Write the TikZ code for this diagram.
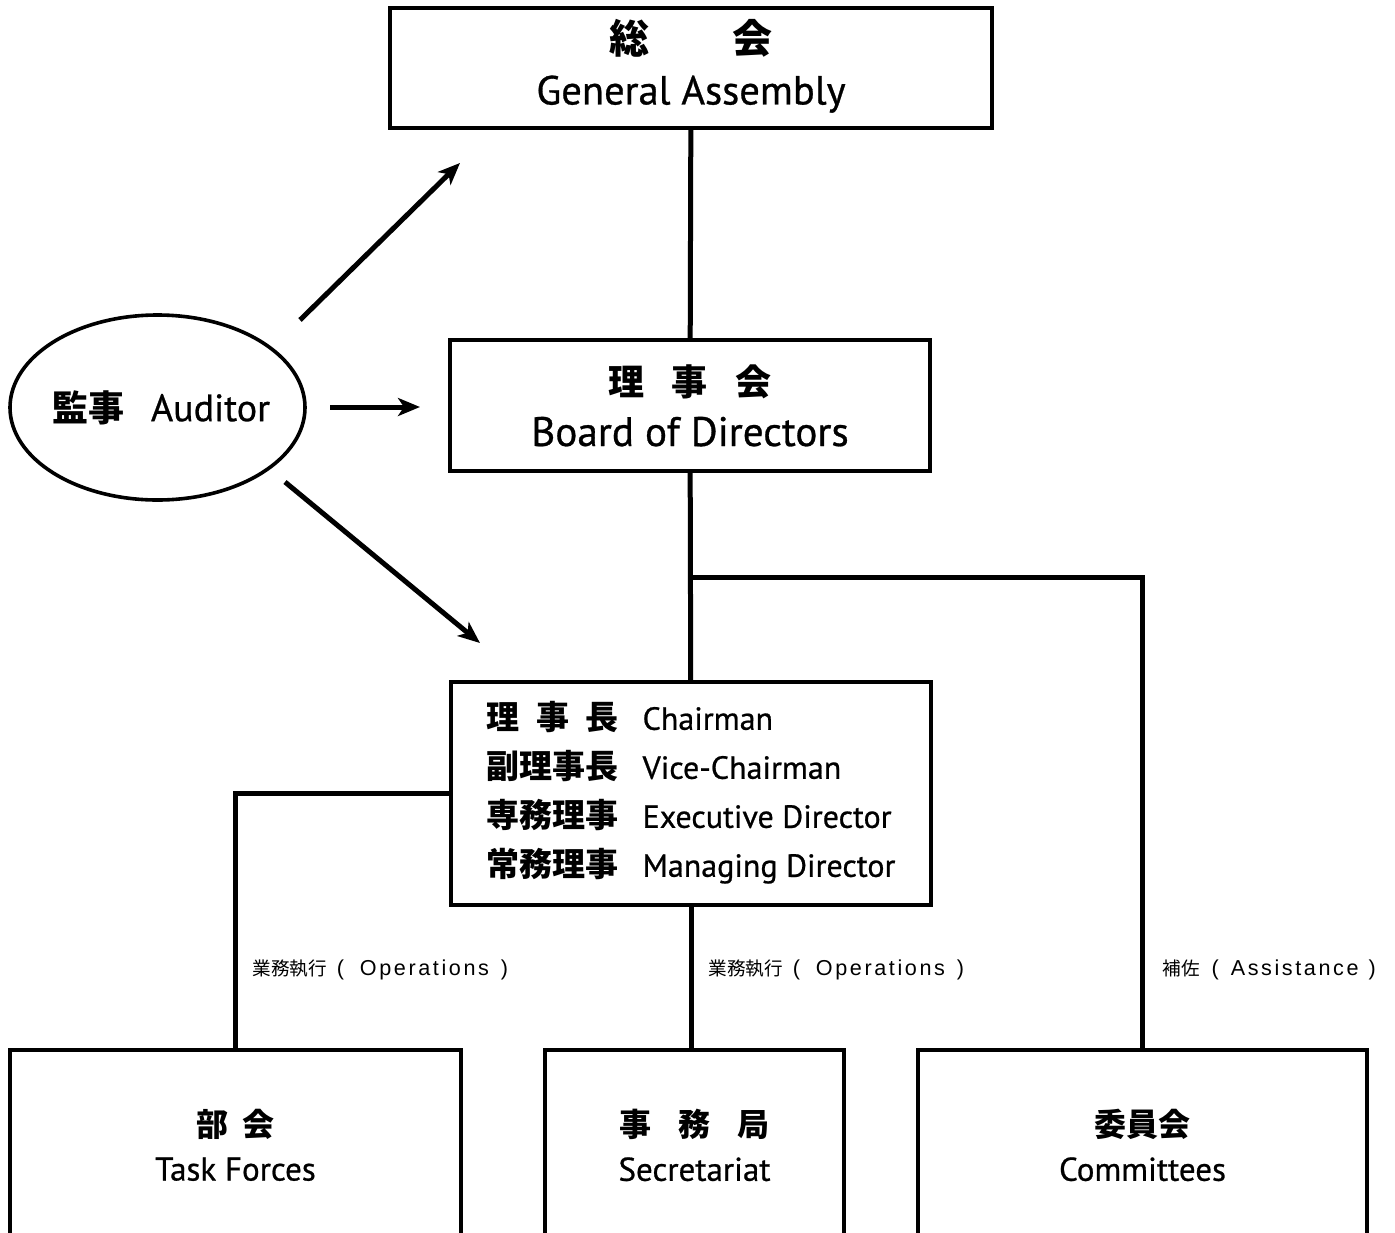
\documentclass[tikz,border=0pt]{standalone}
\usepackage{fontspec}
\setmainfont{PT Sans}[FakeBold=0.7]
\newfontfamily\jp{Noto Sans CJK JP}
\newfontfamily\lblfont{Liberation Sans}[LetterSpace=12]
\usetikzlibrary{shapes.geometric,arrows.meta}

\newcommand\jb{\jp\bfseries}
\tikzset{
  box/.style={draw, line width=1.8pt, inner sep=0pt, align=center},
  conn/.style={line width=2.5pt},
  arr/.style={line width=2.5pt, -{Stealth[length=11pt,width=9pt,inset=3pt]}},
  oplab/.style={anchor=west, inner sep=0pt, font=\fontsize{10.8}{13}\selectfont}
}

\begin{document}
\begin{tikzpicture}[x=0.5pt,y=-0.5pt]
                \useasboundingbox (0,0) rectangle (1395,1232);
                \clip (0,0) rectangle (1395,1232);
                % boxes
                \node [box, minimum width=301pt, minimum height=60pt] (ga) at (691,68)
                    {{\fontsize{20}{24}\jb 総\hspace{42pt}会}\\[8pt]{\fontsize{20.3}{23}\selectfont General Assembly}\rule[-6pt]{0pt}{1pt}};
                \node [box, minimum width=240pt, minimum height=65.5pt] (board) at (690,405.5)
                    {{\fontsize{18}{22}\jb 理\hspace{14pt}事\hspace{14pt}会}\\[8pt]{\fontsize{20.6}{23}\selectfont Board of Directors}};
                \node [box, minimum width=240pt, minimum height=111.5pt] (chair) at (691,793.5)
                    {\fontsize{16}{24.5}\selectfont
                     \begin{tabular}{@{}l@{\hspace{12pt}}l@{}}
                     {\fontsize{16.5}{20}\jb\makebox[66pt][s]{理\hfill 事\hfill 長}} & Chairman\\
                     {\fontsize{16.5}{20}\jb 副理事長} & Vice-Chairman\\
                     {\fontsize{16.5}{20}\jb 専務理事} & Executive Director\\
                     {\fontsize{16.5}{20}\jb 常務理事} & Managing Director
                     \end{tabular}};
                \node [box, minimum width=225.5pt, minimum height=95pt] (task) at (235.5,1145)
                    {{\fontsize{16}{20}\jb 部\hspace{7pt}会}\\[8pt]{\fontsize{16.5}{20}\selectfont Task Forces}};
                \node [box, minimum width=149.5pt, minimum height=95pt] (sec) at (694.5,1145)
                    {{\fontsize{16}{20}\jb 事\hspace{13.5pt}務\hspace{13.5pt}局}\\[8pt]{\fontsize{16.5}{20}\selectfont Secretariat}};
                \node [box, minimum width=224.5pt, minimum height=95pt] (comm) at (1142.5,1145)
                    {{\fontsize{16}{20}\jb 委員会}\\[8pt]{\fontsize{16.5}{20}\selectfont Committees}};
                \node [box, ellipse, minimum width=147.5pt, minimum height=92.5pt] (aud) at (157.5,407.5)
                    {\makebox[0pt]{\hspace{4pt}{\fontsize{18}{22}\jb 監事}\hspace{13pt}{\fontsize{19}{22}\selectfont Auditor}}};
                % lines
                \coordinate (br) at (691,577);
                \draw [conn] (ga) -- (board) (board) -- (chair);
                \draw [conn] (br) -| (comm);
                \draw [conn] (chair.west) -| (task);
                \draw [conn] (chair.south) -- (chair.south |- sec.north);
                % auditor arrows
                \coordinate (a1) at (300,320);
                \coordinate (b1) at (460,163);
                \coordinate (a2) at (330,407);
                \coordinate (b2) at (420,407);
                \coordinate (a3) at (285,482);
                \coordinate (b3) at (480,643);
                \foreach \p in {1,2,3}
                    \draw [arr] (a\p) -- (b\p);
                % labels
                \node [oplab] (lt) at (252,970) {{\fontsize{9.3}{12}\jp 業務執行}\hspace{5pt}{\lblfont (\hspace{8pt}Operations\hspace{6pt})}};
                \node [oplab] (lm) at (708,970) {{\fontsize{9.3}{12}\jp 業務執行}\hspace{5pt}{\lblfont (\hspace{8pt}Operations\hspace{6pt})}};
                \node [oplab] (lr) at (1162,970) {{\fontsize{9.3}{12}\jp 補佐}\hspace{6pt}{\lblfont (\hspace{6pt}Assistance\hspace{5pt})}};
            \end{tikzpicture}
\end{document}
